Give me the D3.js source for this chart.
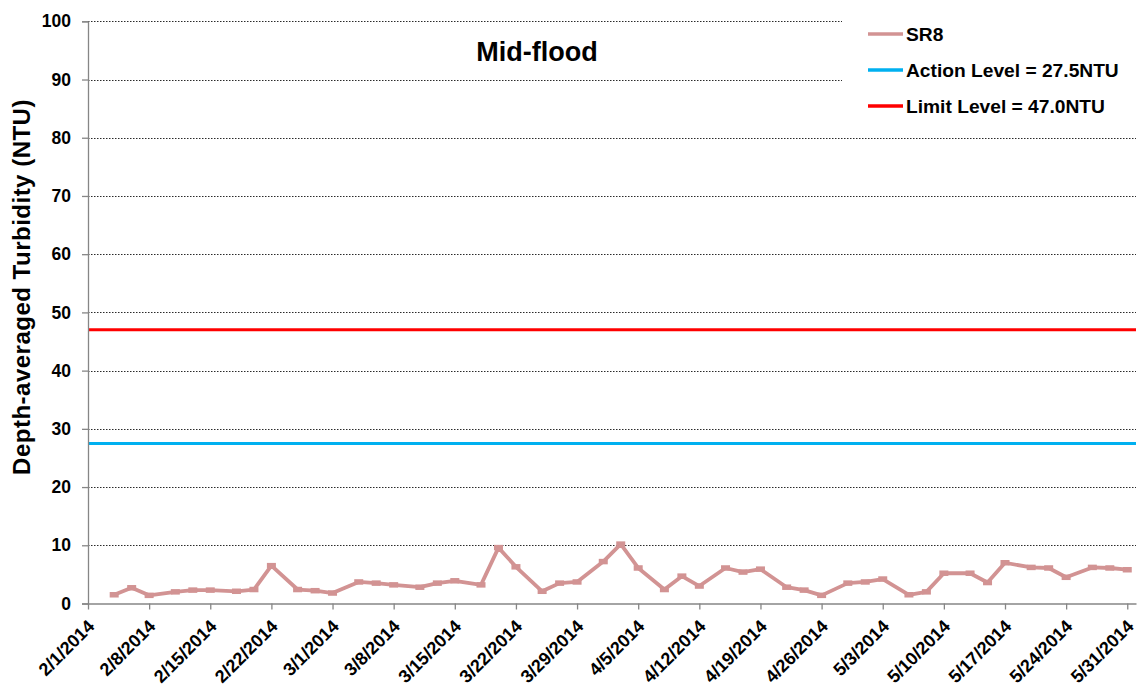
<!DOCTYPE html>
<html>
<head>
<meta charset="utf-8">
<script src="https://cdn.jsdelivr.net/npm/d3@7"></script>
<style>
  html, body { margin: 0; padding: 0; background: #fff; }
  svg { display: block; font-family: "Liberation Sans", Arial, sans-serif; }
</style>
</head>
<body>
<svg id="chart" width="1145" height="689"></svg>
<script>
// Sampling dates (2014) and depth-averaged turbidity at SR8, mid-flood
const sampleDates = [
  "2014-02-04","2014-02-06","2014-02-08","2014-02-11","2014-02-13","2014-02-15",
  "2014-02-18","2014-02-20","2014-02-22","2014-02-25","2014-02-27","2014-03-01",
  "2014-03-04","2014-03-06","2014-03-08","2014-03-11","2014-03-13","2014-03-15",
  "2014-03-18","2014-03-20","2014-03-22","2014-03-25","2014-03-27","2014-03-29",
  "2014-04-01","2014-04-03","2014-04-05","2014-04-08","2014-04-10","2014-04-12",
  "2014-04-15","2014-04-17","2014-04-19","2014-04-22","2014-04-24","2014-04-26",
  "2014-04-29","2014-05-01","2014-05-03","2014-05-06","2014-05-08","2014-05-10",
  "2014-05-13","2014-05-15","2014-05-17","2014-05-20","2014-05-22","2014-05-24",
  "2014-05-27","2014-05-29","2014-05-31"
];
const sr8Values = [
  1.5, 2.7, 1.4, 2.0, 2.3, 2.3,
  2.1, 2.4, 6.5, 2.4, 2.2, 1.8,
  3.7, 3.5, 3.2, 2.8, 3.5, 3.9,
  3.2, 9.6, 6.3, 2.1, 3.5, 3.7,
  7.2, 10.2, 6.1, 2.4, 4.7, 3.0,
  6.1, 5.4, 5.9, 2.8, 2.3, 1.4,
  3.5, 3.7, 4.2, 1.5, 2.0, 5.2,
  5.2, 3.6, 7.0, 6.2, 6.1, 4.5,
  6.2, 6.1, 5.8
];
const actionLevel = 27.5;
const limitLevel = 47.0;
const yTicks = [0, 10, 20, 30, 40, 50, 60, 70, 80, 90, 100];
const xDomain = ["2014-02-01", "2014-06-01"];
const legendLabels = ["SR8", "Action Level = 27.5NTU", "Limit Level = 47.0NTU"];
const titleText = "Mid-flood";
const yAxisTitle = "Depth-averaged Turbidity (NTU)";

const colors = { sr8: "#D29393", action: "#00B0F0", limit: "#FF0000", axis: "#868686" };

const parse = d3.utcParse("%Y-%m-%d");
const data = sampleDates.map((d, i) => ({ date: parse(d), value: sr8Values[i] }));

const svg = d3.select("#chart");
const plotLeft = 88, plotRight = 1136, plotTop = 21.3, plotBottom = 603.5;

const x = d3.scaleUtc().domain(xDomain.map(parse)).range([plotLeft, plotRight]);
const y = d3.scaleLinear().domain([0, 100]).range([plotBottom, plotTop]);

// Dotted horizontal gridlines
svg.append("g")
  .selectAll("line")
  .data(yTicks.filter(t => t > 0))
  .join("line")
  .attr("x1", plotLeft).attr("x2", plotRight)
  .attr("y1", d => Math.round(y(d)) + 0.5).attr("y2", d => Math.round(y(d)) + 0.5)
  .attr("stroke", "#2a2a2a")
  .attr("stroke-width", 1)
  .attr("stroke-dasharray", "1.5,1.5");

// Threshold levels
svg.append("line")
  .attr("x1", plotLeft).attr("x2", plotRight)
  .attr("y1", y(actionLevel)).attr("y2", y(actionLevel))
  .attr("stroke", colors.action).attr("stroke-width", 3);
svg.append("line")
  .attr("x1", plotLeft).attr("x2", plotRight)
  .attr("y1", y(limitLevel)).attr("y2", y(limitLevel))
  .attr("stroke", colors.limit).attr("stroke-width", 3);

// SR8 series
const line = d3.line().x(d => x(d.date)).y(d => y(d.value));
svg.append("path")
  .datum(data)
  .attr("fill", "none")
  .attr("stroke", colors.sr8)
  .attr("stroke-width", 3.8)
  .attr("stroke-linejoin", "round")
  .attr("d", line);
svg.append("g")
  .selectAll("rect")
  .data(data)
  .join("rect")
  .attr("x", d => x(d.date) - 4.5)
  .attr("y", d => y(d.value) - 2.75)
  .attr("width", 9).attr("height", 5.5)
  .attr("fill", colors.sr8);

// Y axis
const yAxis = d3.axisLeft(y).tickValues(yTicks).tickSize(6).tickPadding(11);
const gy = svg.append("g").attr("transform", `translate(${plotLeft},0)`).call(yAxis);
gy.select(".domain").attr("stroke", colors.axis).attr("stroke-width", 1.3);
gy.selectAll(".tick line").attr("stroke", colors.axis).attr("stroke-width", 1.3);
gy.selectAll(".tick text")
  .attr("font-size", 17.5).attr("font-weight", "bold").attr("fill", "#000")
  .attr("font-family", "Liberation Sans, Arial, sans-serif");

// X axis: weekly ticks
const xTicks = d3.utcDay.range(parse("2014-02-01"), parse("2014-06-01"), 7);
const fmt = d => `${d.getUTCMonth() + 1}/${d.getUTCDate()}/${d.getUTCFullYear()}`;
const xAxis = d3.axisBottom(x).tickValues(xTicks).tickFormat(fmt).tickSize(6).tickSizeOuter(0);
const gx = svg.append("g").attr("transform", `translate(0,${plotBottom})`).call(xAxis);
gx.select(".domain").attr("stroke", colors.axis).attr("stroke-width", 1.3);
gx.selectAll(".tick line").attr("stroke", colors.axis).attr("stroke-width", 1.3);
gx.selectAll(".tick text")
  .attr("font-size", 18).attr("font-weight", "bold").attr("fill", "#000")
  .attr("font-family", "Liberation Sans, Arial, sans-serif")
  .attr("text-anchor", "end")
  .attr("dy", null)
  .attr("transform", "translate(7,24) rotate(-45)")
  .attr("y", 0).attr("x", 0);

// Title
svg.append("text")
  .attr("x", 537).attr("y", 61)
  .attr("text-anchor", "middle")
  .attr("font-size", 27).attr("font-weight", "bold")
  .text(titleText);

// Y axis title
svg.append("text")
  .attr("transform", "translate(30,287) rotate(-90)")
  .attr("text-anchor", "middle")
  .attr("font-size", 24).attr("font-weight", "bold")
  .attr("letter-spacing", 0.5)
  .text(yAxisTitle);

// Legend
const legend = svg.append("g");
legend.append("rect")
  .attr("x", 842).attr("y", 0).attr("width", 303).attr("height", 120)
  .attr("fill", "#fff");
const legendColors = [colors.sr8, colors.action, colors.limit];
const legendY = [34, 70, 106];
legendLabels.forEach((lab, i) => {
  legend.append("line")
    .attr("x1", 868).attr("x2", 903)
    .attr("y1", legendY[i]).attr("y2", legendY[i])
    .attr("stroke", legendColors[i]).attr("stroke-width", 3.5);
  legend.append("text")
    .attr("x", 906).attr("y", legendY[i] + 6.5)
    .attr("font-size", 19.2).attr("font-weight", "bold")
    .text(lab);
});
</script>
</body>
</html>
